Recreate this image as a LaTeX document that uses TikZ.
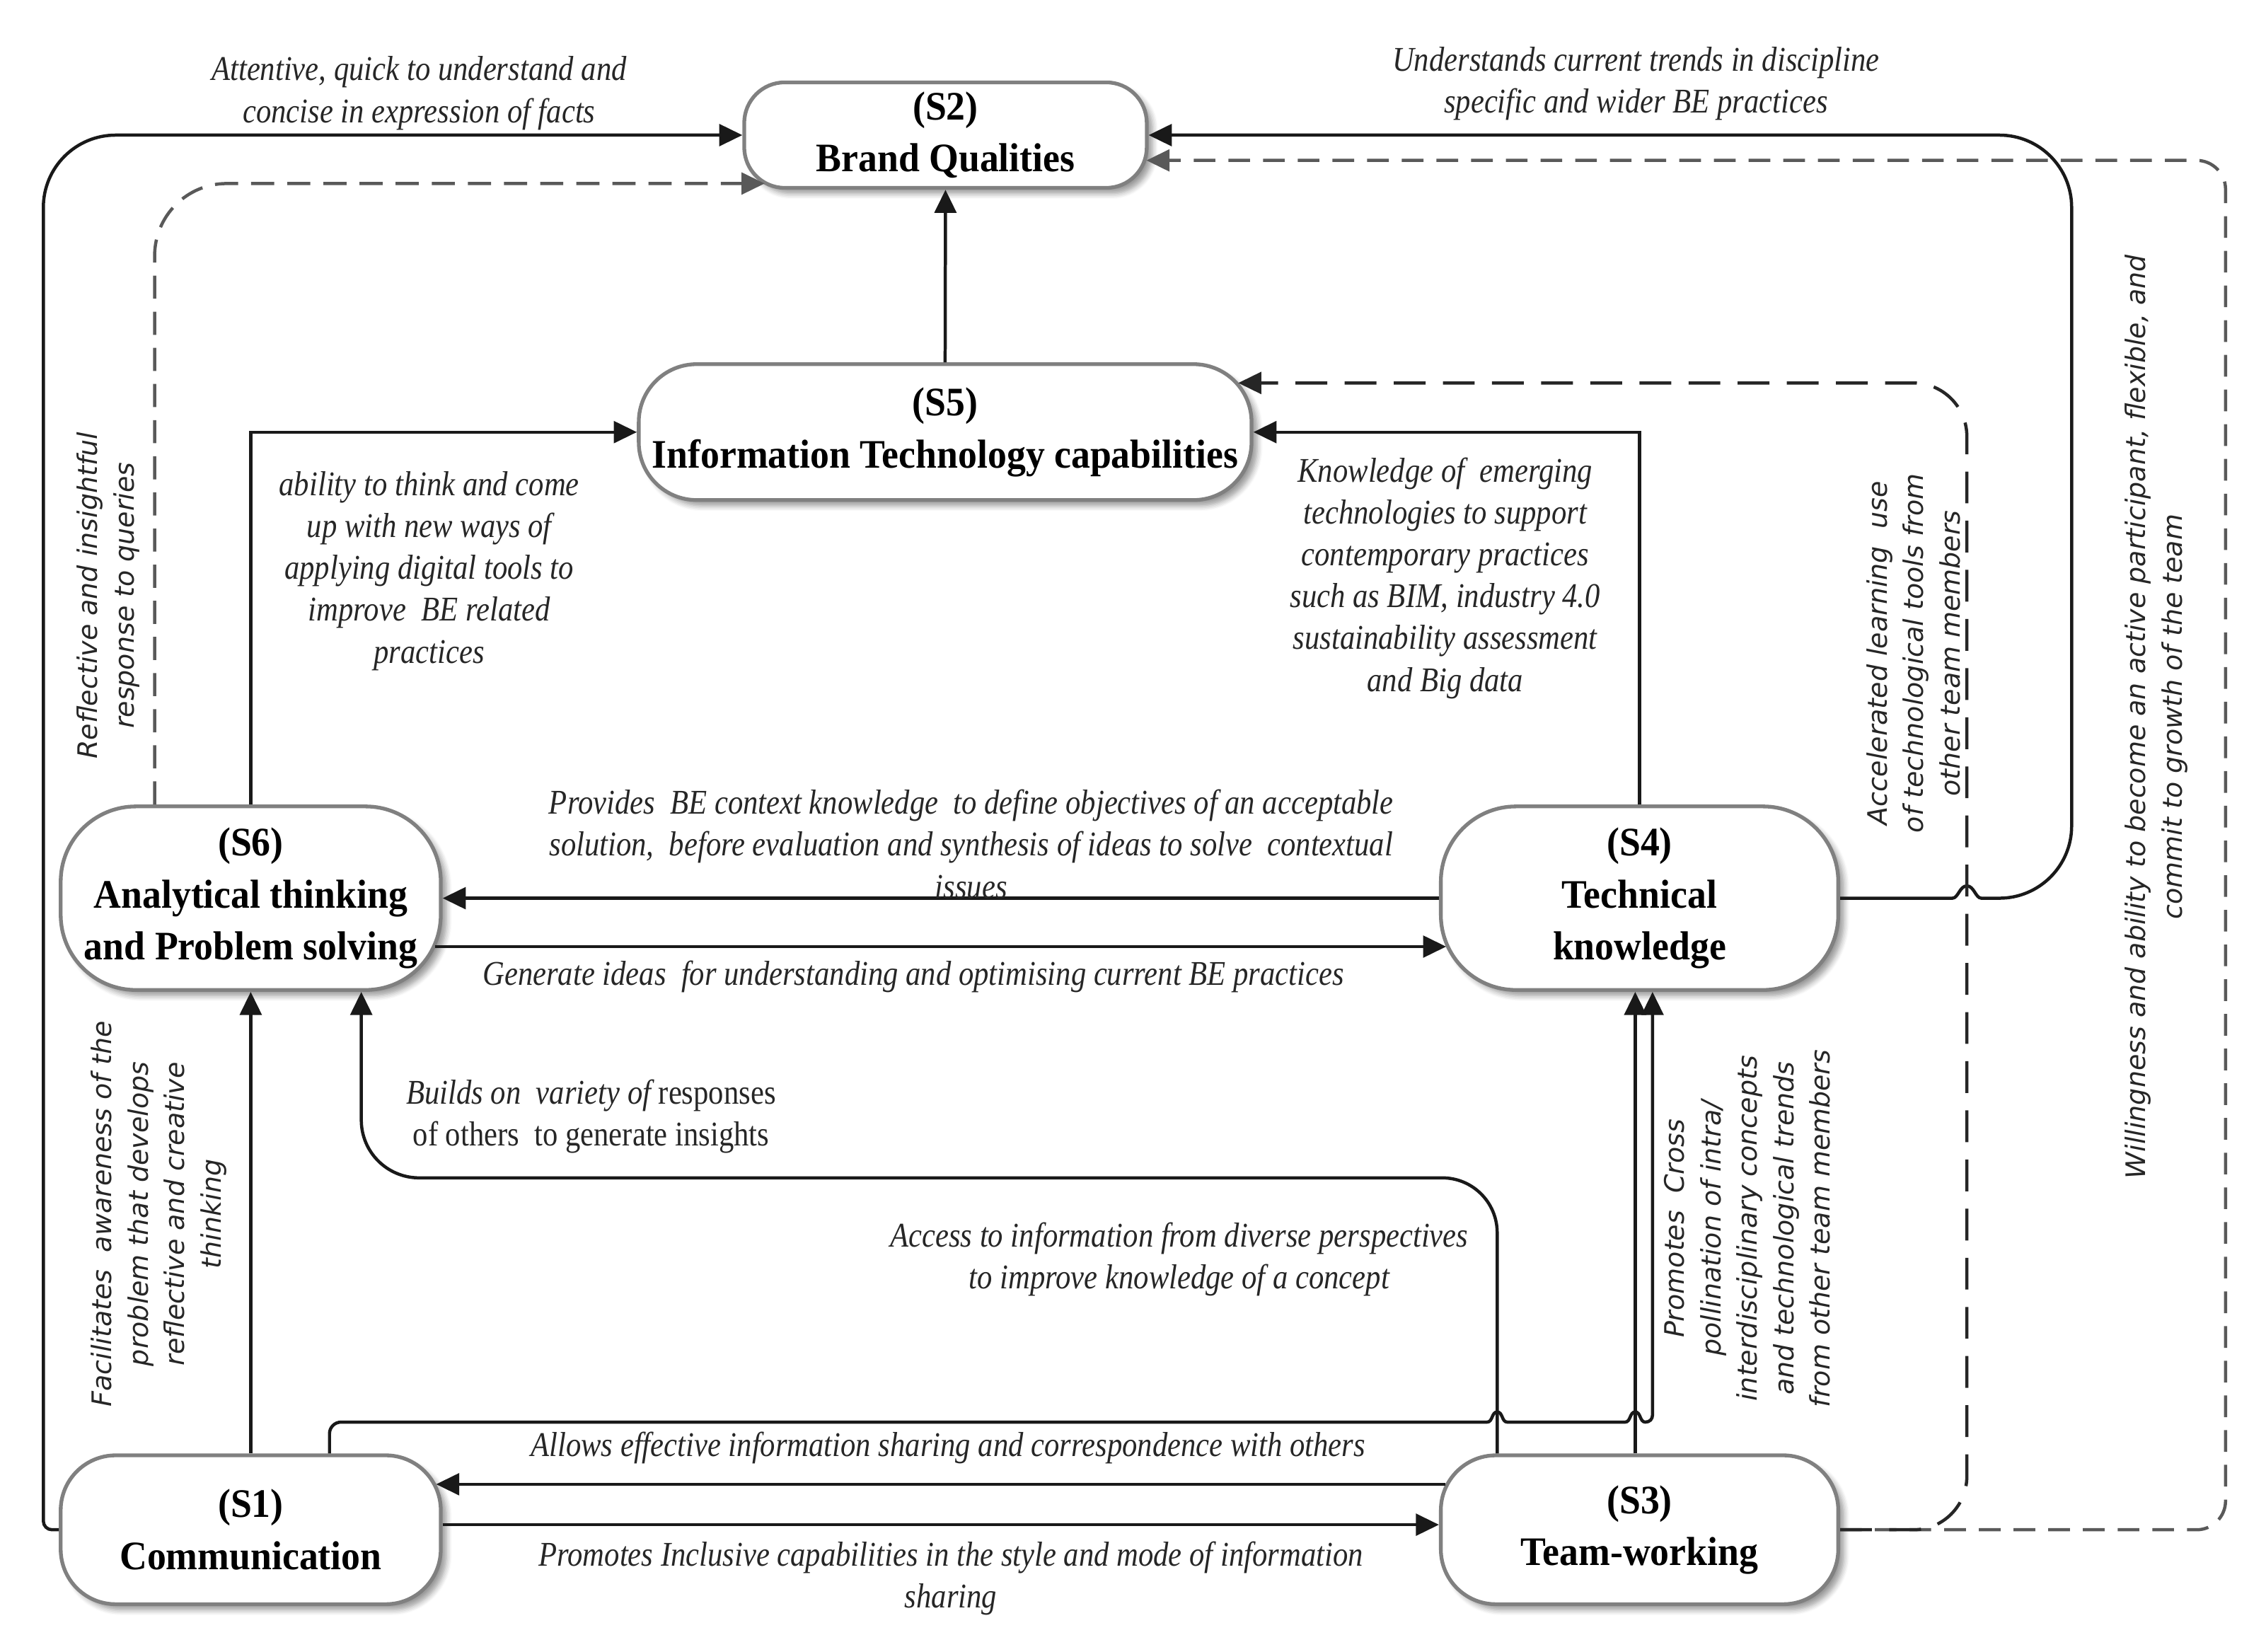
\documentclass[tikz,border=0pt]{standalone}
\usepackage{fontspec}
\setmainfont{Liberation Serif}
\newfontfamily\titlefont[FakeStretch=0.94]{Liberation Serif}
\newfontfamily\labelfont[FakeStretch=0.87]{Liberation Serif}
\newfontfamily\rotfont{DejaVu Sans}
\usetikzlibrary{arrows.meta,calc,shadows.blur}
\begin{document}
\begin{tikzpicture}[x=0.5pt,y=-0.5pt,
  box/.style={draw=black!50, line width=1.3pt, fill=white, inner sep=0pt, align=center,
    font={\titlefont\bfseries\fontsize{14}{18}\selectfont},
    blur shadow={shadow xshift=2pt, shadow yshift=-2pt, shadow blur steps=6, shadow opacity=40}},
  lab/.style={font={\labelfont\itshape\fontsize{12}{14.5}\selectfont}, align=center, inner sep=0pt, text=black!85},
  rot/.style={font={\rotfont\itshape\fontsize{9.3}{12.6}\selectfont}, align=center, inner sep=0pt, rotate=90, text=black!85},
  conn/.style={line width=1.1pt, draw=black!90, -{Triangle[length=8pt,width=7.5pt]}},
  dshA/.style={conn, draw=black!65, dash pattern=on 8pt off 4.5pt},
  dshB/.style={conn, draw=black!65, dash pattern=on 7.5pt off 4.5pt},
  dshC/.style={conn, draw=black!85, dash pattern=on 11pt off 6pt}]
\useasboundingbox (0,0) rectangle (1568,1143);

% nodes
\node[box, minimum width=139.25pt, minimum height=36.5pt, rounded corners=14pt] (s2) at (654.25,93.5) {(S2)\\Brand Qualities};
\node[box, minimum width=212pt, minimum height=47pt, rounded corners=20pt] (s5) at (654,299) {(S5)\\Information Technology capabilities};
\node[box, minimum width=131.5pt, minimum height=63.5pt, rounded corners=26pt] (s6) at (173.5,621.5) {(S6)\\Analytical thinking\\and Problem solving};
\node[box, minimum width=137.5pt, minimum height=63.5pt, rounded corners=26pt] (s4) at (1134.5,621.5) {(S4)\\Technical\\knowledge};
\node[box, minimum width=131.5pt, minimum height=51.5pt, rounded corners=19pt] (s1) at (173.5,1058.5) {(S1)\\Communication};
\node[box, minimum width=137.5pt, minimum height=51.5pt, rounded corners=19pt] (s3) at (1134.5,1058.5) {(S3)\\Team-working};

% connectors
\draw[conn] (s1.west) -- (36,1058.5) .. controls (32.7,1058.5) and (30,1055.8) .. (30,1052.5)
  -- (30,143.5) .. controls (30,115.9) and (52.4,93.5) .. (80,93.5) -- (s2.west);
\draw[dshA] ($(s6.north)+(-66.5,0)$) -- (107,177) .. controls (107,149.4) and (129.4,127) .. (157,127)
  -- ($(s2.west)+(15.4,33.5)$);
\draw[conn] (s5.north) -- (s2.south);
\draw[conn] (s6.north) |- (s5.west);
\draw[conn] (s4.north) |- (s5.east);
\draw[conn] (s4.west) -- (s6.east);
\draw[conn] ($(s6.east)+(-5,33.5)$) -- ($(s4.west)+(5,33.5)$);
\draw[conn] (s4.east) -- (1351,621.5) .. controls (1355,621.5) and (1356,613) .. (1361,613)
  .. controls (1366,613) and (1367,621.5) .. (1371,621.5) -- (1383.5,621.5)
  .. controls (1411.1,621.5) and (1433.5,599.1) .. (1433.5,571.5) -- (1433.5,143.5)
  .. controls (1433.5,115.9) and (1411.1,93.5) .. (1383.5,93.5) -- (s2.east);
\draw[dshB] (s3.east) -- (1520,1058.5) .. controls (1531,1058.5) and (1540,1049.5) .. (1540,1038.5)
  -- (1540,131) .. controls (1540,120) and (1531,111) .. (1520,111) -- ($(s2.east)+(-1.5,17.5)$);
\draw[dshC] (s3.east) -- (1324,1058.5) .. controls (1344.4,1058.5) and (1361,1041.9) .. (1361,1021.5)
  -- (1361,302) .. controls (1361,281.6) and (1344.4,265) .. (1324,265) -- ($(s5.east)+(-10.5,-34)$);
\draw[conn] ($(s3.north)+(-3,0)$) -- ($(s4.south)+(-3,0)$);
\draw[conn] ($(s1.north)+(54.5,0)$) -- (228,992) .. controls (228,987.6) and (231.6,984) .. (236,984)
  -- (1029,984) .. controls (1033,984) and (1032,977) .. (1036,977) .. controls (1040,977) and (1039,984) .. (1043,984)
  -- (1124.5,984) .. controls (1128.5,984) and (1127.5,977) .. (1131.5,977) .. controls (1135.5,977) and (1134.5,984) .. (1138.5,984)
  .. controls (1141.5,984) and (1143.5,982) .. (1143.5,979) -- ($(s4.south)+(9,0)$);
\draw[conn] ($(s3.north)+(-98.5,0)$) -- (1036,853) .. controls (1036,832) and (1019,815) .. (998,815)
  -- (290,815) .. controls (267.9,815) and (250,797.1) .. (250,775) -- ($(s6.south)+(76.5,0)$);
\draw[conn] (s1.north) -- (s6.south);
\draw[conn] ($(s3.west)+(4.5,-31.5)$) -- ($(s1.east)+(-4.5,-31.5)$);
\draw[conn] ($(s1.east)+(0,-3.5)$) -- ($(s3.west)+(0,-3.5)$);

% labels
\node[lab] (l1) at (290,64.5) {Attentive, quick to understand and\\concise in expression of facts};
\node[lab] (l2) at (1132,58) {Understands current trends in discipline\\specific and wider BE practices};
\node[lab] (l3) at (297,395) {ability to think and come\\up with new ways of\\applying digital tools to\\improve\ \ BE related\\practices};
\node[lab] (l4) at (1000,400) {Knowledge of\ \ emerging\\technologies to support\\contemporary practices\\such as BIM, industry 4.0\\sustainability assessment\\and Big data};
\node[lab] (l5) at (672,584) {Provides\ \ BE context knowledge\ \ to define objectives of an acceptable\\solution,\ \ before evaluation and synthesis of ideas to solve\ \ contextual\\issues};
\node[lab] (l6) at (632,676) {Generate ideas\ \ for understanding and optimising current BE practices};
\node[lab] (l7) at (409,772.5) {Builds on\ \ variety of {\upshape responses}\\{\upshape of others\ \ to generate insights}};
\node[lab] (l8) at (816,871.5) {Access to information from diverse perspectives\\to improve knowledge of a concept};
\node[lab] (l9) at (656,1002) {Allows effective information sharing and correspondence with others};
\node[lab] (l10) at (658,1092) {Promotes Inclusive capabilities in the style and mode of information\\sharing};

\node[rot] (r1) at (75,412) {Reflective and insightful\\response to queries};
\node[rot] (r2) at (110,840) {Facilitates\ \ awareness of the\\problem that develops\\reflective and creative\\thinking};
\node[rot] (r3) at (1324,452) {Accelerated learning\ \ use\\of technological tools from\\other team members};
\node[rot] (r4) at (1492,496) {Willingness and ability to become an active participant, flexible, and\\commit to growth of the team};
\node[rot] (r5) at (1209,850) {Promotes\ \ Cross\\pollination of intra/\\interdisciplinary concepts\\and technological trends\\from other team members};
\end{tikzpicture}
\end{document}
